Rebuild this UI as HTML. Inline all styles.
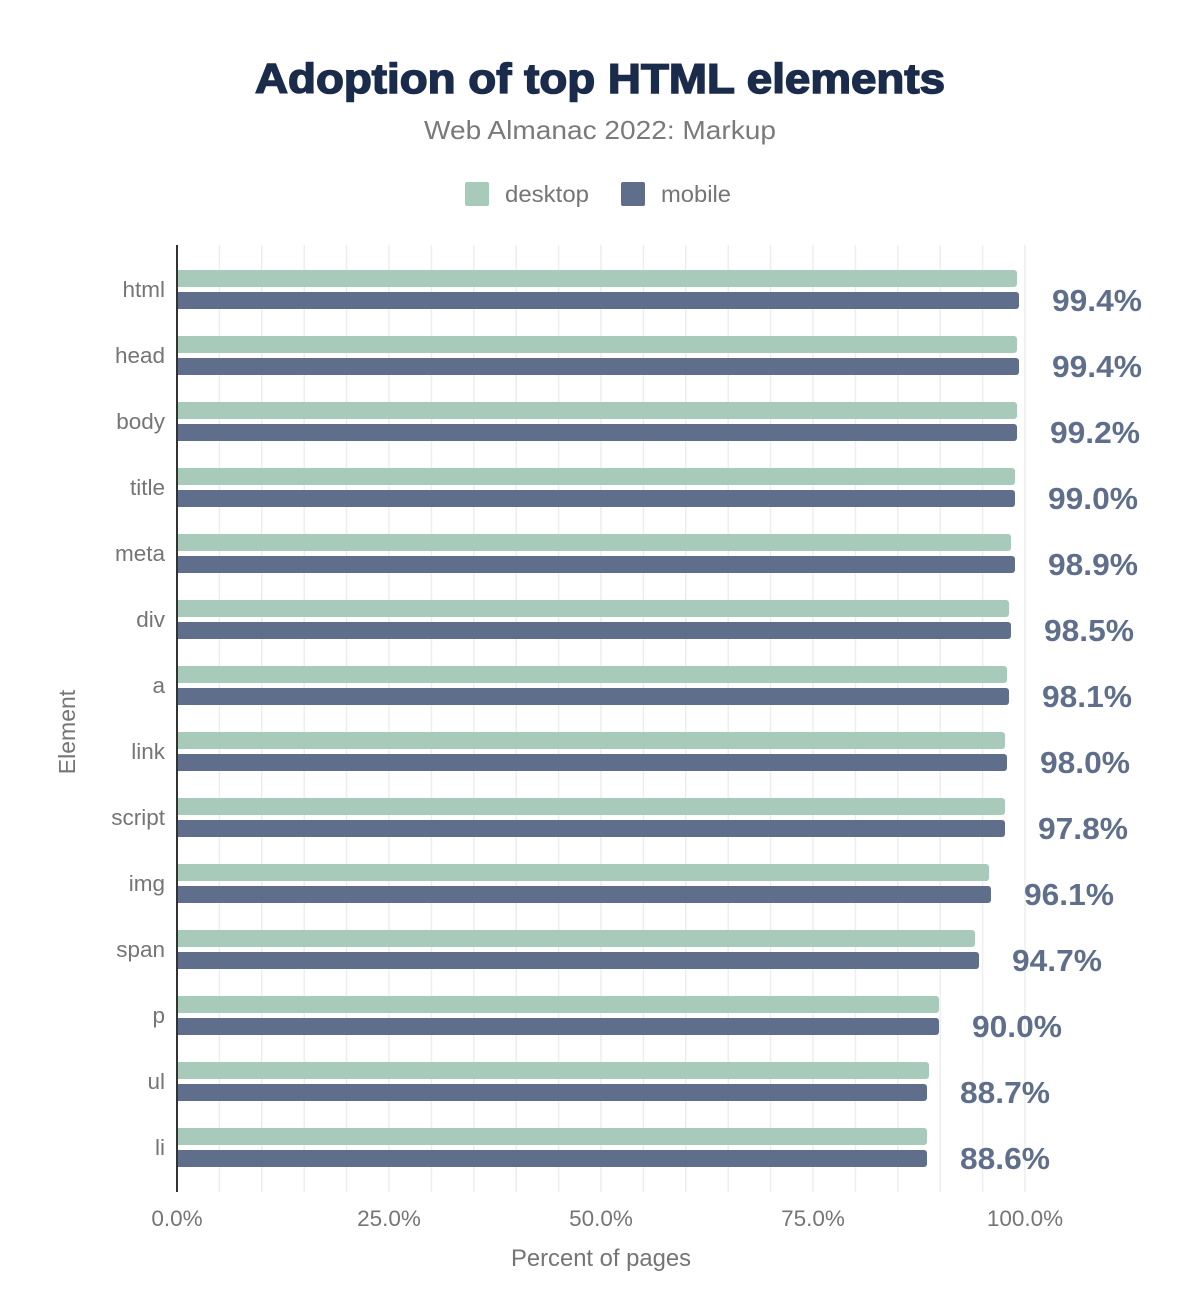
<!DOCTYPE html>
<html><head><meta charset="utf-8"><style>
html,body{margin:0;padding:0;background:#fff;}
svg{display:block;font-family:"Liberation Sans",Arial,sans-serif;}
</style></head><body>
<svg width="1200" height="1312" viewBox="0 0 1200 1312">
<text x="600" y="93" text-anchor="middle" font-size="42" font-weight="900" fill="#1a2b4b" stroke="#1a2b4b" stroke-width="1.5" textLength="690" lengthAdjust="spacingAndGlyphs">Adoption of top HTML elements</text>
<text x="600" y="139" text-anchor="middle" font-size="26" fill="#7a7a7a" textLength="352" lengthAdjust="spacingAndGlyphs">Web Almanac 2022: Markup</text>
<rect x="465" y="182" width="24" height="24" rx="2" fill="#a8cabb"/>
<text x="505" y="202" font-size="23" fill="#757575" textLength="84" lengthAdjust="spacingAndGlyphs">desktop</text>
<rect x="621" y="182" width="24" height="24" rx="2" fill="#5f6f8b"/>
<text x="661" y="202" font-size="23" fill="#757575" textLength="70" lengthAdjust="spacingAndGlyphs">mobile</text>
<g stroke="#eeeeee" stroke-width="1.5" id="grid"></g>
<g id="bars"></g>
<line x1="177" y1="245" x2="177" y2="1192" stroke="#333" stroke-width="2"/>
<g font-size="22.5" fill="#757575" text-anchor="middle">
<text x="177" y="1226">0.0%</text><text x="389" y="1226">25.0%</text><text x="601" y="1226">50.0%</text><text x="813" y="1226">75.0%</text><text x="1025" y="1226">100.0%</text>
</g>
<text x="601" y="1266" text-anchor="middle" font-size="24" fill="#757575" textLength="180" lengthAdjust="spacingAndGlyphs">Percent of pages</text>
<text transform="translate(75,732) rotate(-90)" text-anchor="middle" font-size="23" fill="#757575">Element</text>
</svg>
<script>
var ns="http://www.w3.org/2000/svg";
var g=document.getElementById('grid');
for(var i=1;i<=20;i++){var x=177+i*42.4;var l=document.createElementNS(ns,'line');l.setAttribute('x1',x);l.setAttribute('x2',x);l.setAttribute('y1',245);l.setAttribute('y2',1192);g.appendChild(l);}
var names=["html","head","body","title","meta","div","a","link","script","img","span","p","ul","li"];
var vals=["99.4%","99.4%","99.2%","99.0%","98.9%","98.5%","98.1%","98.0%","97.8%","96.1%","94.7%","90.0%","88.7%","88.6%"];
var d=[1017,1017,1017,1015,1011,1009,1007,1005,1005,989,975,939,929,927];
var m=[1019,1019,1017,1015,1015,1011,1009,1007,1005,991,979,939,927,927];
var b=document.getElementById('bars');
function rect(x2,y,c){var p=document.createElementNS(ns,'path');var w=x2-178,r=3;
p.setAttribute('d','M178,'+y+'h'+(w-r)+'a'+r+','+r+' 0 0 1 '+r+','+r+'v'+(17-2*r)+'a'+r+','+r+' 0 0 1 -'+r+','+r+'h-'+(w-r)+'z');p.setAttribute('fill',c);b.appendChild(p);}
function txt(x,y,s,a,sz,c,w,tl){var t=document.createElementNS(ns,'text');t.setAttribute('x',x);t.setAttribute('y',y);t.setAttribute('text-anchor',a);t.setAttribute('font-size',sz);t.setAttribute('fill',c);if(w)t.setAttribute('font-weight','bold');if(tl){t.setAttribute('textLength',tl);t.setAttribute('lengthAdjust','spacingAndGlyphs');}t.textContent=s;b.appendChild(t);}
for(var i=0;i<14;i++){var y=270+66*i;rect(d[i],y,'#a8cabb');rect(m[i],y+22,'#5f6f8b');
txt(165,y+27,names[i],'end',22.5,'#757575');
txt(m[i]+33,y+41,vals[i],'start',31,'#5f6f8b',1,90);}
</script>
</body></html>
